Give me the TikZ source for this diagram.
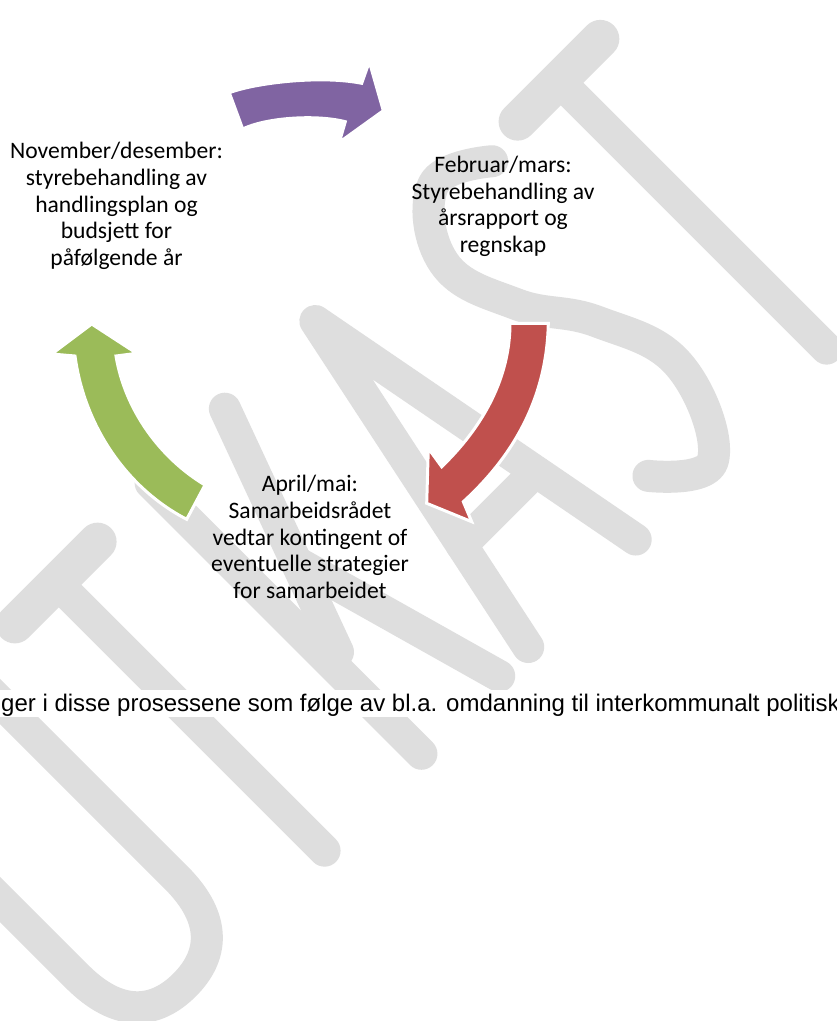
\documentclass[tikz,border=0pt]{standalone}
\usepackage{fontspec}
\newfontfamily\carlito{Carlito}
\newfontfamily\arialf{Liberation Sans}
\definecolor{wm}{RGB}{222,222,222}
\definecolor{arpurple}{RGB}{128,100,162}
\definecolor{arred}{RGB}{192,80,77}
\definecolor{argreen}{RGB}{155,187,89}
\begin{document}
\begin{tikzpicture}[x=1pt,y=1pt,
  wmstroke/.style={draw=wm, line width=32pt, line cap=round, line join=round},
  wmbar/.style={draw=wm, line width=38pt, line cap=round},
  cyclearrow/.style={draw=white, line width=3pt, line join=miter},
  lbl/.style={align=center, inner sep=0pt, font=\carlito\fontsize{23.6}{26.7}\selectfont},
]
\fill[white] (0,0) rectangle (837,-1021);
\useasboundingbox (0,0) rectangle (837,-1021);
% watermark UTKAST
\begin{scope}
\clip (0,0) rectangle (837,-1021);
\begin{scope}[rotate=45]
 % U
 \draw[wmstroke] (-636,-448) -- (-636,-745) .. controls (-636,-805) and (-606,-827) .. (-566,-827) .. controls (-526,-827) and (-496,-805) .. (-496,-745) -- (-496,-448);
 % T
 \draw[wmbar] (-431,-452) -- (-314,-452);
 \draw[wmstroke] (-372,-452) -- (-372,-831);
 % K
 \draw[wmstroke] (-235,-448) -- (-235,-831);
 \draw[wmstroke] (-130,-448) -- (-222,-700);
 \draw[wmstroke] (-187,-610) -- (-125,-831);
 % A
 \draw[wmstroke] (-84,-831) -- (-4,-450) -- (68,-831);
 \draw[wmstroke] (-59,-712) -- (45,-712);
 % S
 \draw[wmstroke] plot[smooth, tension=0.7] coordinates {(234,-462) (176,-437) (128,-500) (150,-580) (195,-650) (222,-740) (178,-830) (122,-795)};
 % T
 \draw[wmbar] (280,-452) -- (397,-452);
 \draw[wmstroke] (338,-452) -- (338,-831);
\end{scope}
\end{scope}
% white band behind the text line
\fill[white] (0,-690) rectangle (837,-717);
% cycle arrows
\path[cyclearrow, fill=arpurple] (229.3,-92.7) .. controls (255,-83) and (320,-75) .. (361.7,-83.3)
  -- (369.3,-61.7) -- (383.3,-110.7) -- (339.3,-142.3) -- (345.3,-121.7)
  .. controls (315,-114) and (265,-118) .. (242.7,-129) -- cycle;
\path[cyclearrow, fill=arred] (510,-323.3) -- (548.3,-323.3)
  .. controls (547,-390) and (520,-450) .. (463.3,-501.7)
  -- (471.7,-521.7) -- (426.7,-503.3) -- (428.3,-448.3) -- (441.7,-466.7)
  .. controls (490,-420) and (510,-370) .. (510,-323.3) -- cycle;
\path[cyclearrow, fill=argreen] (91.7,-324) -- (136.7,-353.3) -- (116,-356)
  .. controls (125,-410) and (160,-458) .. (205,-485)
  -- (186.7,-519.3)
  .. controls (130,-490) and (85,-430) .. (75,-356)
  -- (51.7,-354) -- cycle;
% labels (anchor base = baseline of the last line)
\node[lbl, anchor=base] (nov) at (116.5,-265.5) {November/desember:\\styrebehandling av\\handlingsplan og\\budsjett for\\påfølgende år};
\node[lbl, anchor=base] (feb) at (503,-252.5) {Februar/mars:\\Styrebehandling av\\årsrapport og\\regnskap};
\node[lbl, anchor=base] (apr) at (310,-598.6) {April/mai:\\Samarbeidsrådet\\vedtar kontingent of\\eventuelle strategier\\for samarbeidet};
\node[anchor=base west, inner sep=0pt, font=\arialf\fontsize{24}{27}\selectfont] (note) at (1,-711.7) {ger i disse prosessene som følge av bl.a. omdanning til interkommunalt politisk};
\end{tikzpicture}
\end{document}
